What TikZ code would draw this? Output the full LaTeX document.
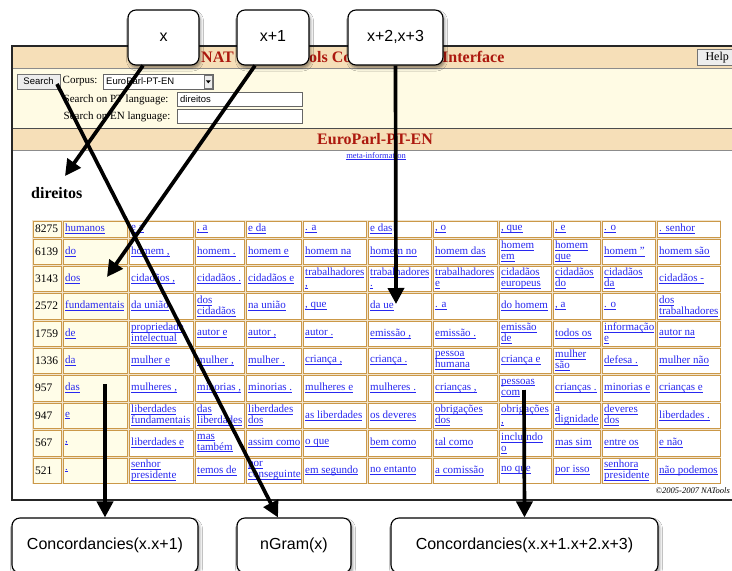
\documentclass[tikz,border=0pt]{standalone}
\usepackage{fontspec}
\setmainfont{Liberation Serif}
\newfontfamily\helv{Liberation Sans}
\usetikzlibrary{arrows.meta,shadows.blur}

\definecolor{wheatband}{RGB}{246,223,184}
\definecolor{formbg}{RGB}{255,251,228}
\definecolor{titlered}{RGB}{172,24,14}
\definecolor{linkblue}{RGB}{40,40,240}
\definecolor{celltan}{RGB}{203,152,72}
\definecolor{cellgap}{RGB}{240,228,206}
\definecolor{paleyel}{RGB}{255,253,232}

\newcommand\lk[1]{\setbox0\hbox{#1}\rlap{\rule[-1.8pt]{\wd0}{0.5pt}}\box0}
\newcommand\two[2]{\lk{#1}\\\lk{#2}}

\tikzstyle{callout}=[
    draw = black,
    line width = 1.1pt,
    fill = white,
    rounded corners = 8pt,
    blur shadow = {shadow xshift=1.5pt, shadow yshift=-3pt, shadow blur radius=3pt, shadow opacity=45},
    font = \helv\fontsize{16}{18}\selectfont,
    text height = 11.5pt,
    text depth = 3.5pt,
    inner sep = 0pt
]
\tikzstyle{ptr}=[
    line width = 3.7pt,
    -{Triangle[length=16pt,width=16pt]}
]

\def\colx{{32,62,128,194,245,302,367,432,498,552,601,656,721}}
\newcommand\tabrow[5]{%
  \draw[celltan,fill=paleyel] (33,#2+1) rectangle (61,#3-1);
  \node[numtxt] (#1-0) at (35,{(#2+#3)/2}) {#4};
  \foreach \t [count=\i] in {#5} {%
    \pgfmathsetmacro\xl{\colx[\i]}%
    \pgfmathsetmacro\xr{\colx[\i+1]}%
    \ifnum\i=1 \def\cfill{paleyel}\else\def\cfill{white}\fi
    \draw[celltan,fill=\cfill] (\xl+1,#2+1) rectangle (\xr-1,#3-1);
    \node[lnktxt] (#1-\i) at (\xl+3,{(#2+#3)/2}) {\t};
  }%
}

\begin{document}
\begin{tikzpicture}[x=1pt, y=-1pt,
    numtxt/.style = {anchor=west, inner sep=0pt, font=\fontsize{11.5}{11}\selectfont},
    lnktxt/.style = {anchor=west, align=left, inner sep=0pt, text=linkblue, font=\fontsize{11}{11}\selectfont},
    ttl/.style = {inner sep=0pt, text=titlered, font=\bfseries\fontsize{16}{18}\selectfont},
    wbtn/.style = {draw=black!55, fill=black!7, inner sep=0pt},
    wfield/.style = {draw=black!60, fill=white, inner sep=0pt, anchor=west},
    ftxt/.style = {anchor=west, inner sep=0pt, font=\fontsize{11}{12}\selectfont}]
    \useasboundingbox (0,0) rectangle (732,571);
    \fill[white] (0,0) rectangle (732,571);

    \begin{scope}
    \clip (0,0) rectangle (732,571);
    \fill[wheatband] (12,46) rectangle (745,68);
    \fill[formbg] (12,68) rectangle (745,128);
    \fill[wheatband] (12,128) rectangle (745,150);
    \draw[black!45] (12,68) -- (745,68);
    \draw[black!70] (12,128) -- (745,128);
    \draw[black!45] (12,150) -- (745,150);
    \draw[black!85, line width=1.2pt] (12,46) rectangle (745,500);

    \node[ttl, anchor=west] (t1) at (201,57) {NAT};
    \node[ttl, anchor=west] (t2) at (309,57) {ols Co};
    \node[ttl, anchor=west] (t3) at (442,57) {Interface};
    \node[wbtn, minimum width=40pt, minimum height=16pt, anchor=west, font=\fontsize{12}{12}\selectfont] (help) at (697,57.5) {Help};

    \node[wbtn, minimum width=43pt, minimum height=15pt, font=\helv\fontsize{9.5}{10}\selectfont] (srch) at (38.5,81.5) {Search};
    \node[ftxt] (corp) at (62.5,81.5) {Corpus:};
    \node[wfield, minimum width=110pt, minimum height=15pt] (sel) at (103,81.5) {};
    \node[anchor=west, inner sep=0pt, font=\helv\fontsize{9.5}{10}\selectfont] (selv) at (106,81.5) {EuroParl-PT-EN};
    \node[wbtn, minimum width=8pt, minimum height=13pt, anchor=east] (drop) at (212.5,81.5) {};
    \fill (drop.center) ++(-2.5,-1.2) -- ++(5,0) -- ++(-2.5,3) -- cycle;
    \node[ftxt] (ptl) at (63.5,99.5) {Search on PT language:};
    \node[wfield, minimum width=125pt, minimum height=14pt] (ptin) at (177,99.5) {};
    \node[anchor=west, inner sep=0pt, font=\helv\fontsize{9.5}{10}\selectfont] (ptv) at (180,99.5) {direitos};
    \node[ftxt] (enl) at (63.5,116.5) {Search on EN language:};
    \node[wfield, minimum width=125pt, minimum height=14pt] (enin) at (177,116.5) {};

    \node[ttl] (corpus) at (375,139) {EuroParl-PT-EN};
    \node[inner sep=0pt, text=linkblue, font=\fontsize{8.5}{9}\selectfont] (meta) at (376,156) {\lk{meta-information}};
    \node[anchor=west, inner sep=0pt, font=\bfseries\fontsize{16}{18}\selectfont] (dir) at (31,193) {direitos};

    \fill[cellgap] (32,220) rectangle (721,484);
    \tabrow{r1}{220}{238}{8275}{\lk{humanos},\lk{e a},\lk{, a},\lk{e da},\lk{. a},\lk{e das},\lk{, o},\lk{, que},\lk{, e},\lk{. o},\lk{. senhor}}
    \tabrow{r2}{238}{265}{6139}{\lk{do},\lk{homem ,},\lk{homem .},\lk{homem e},\lk{homem na},\lk{homem no},\lk{homem das},\two{homem}{em},\two{homem}{que},\lk{homem "},\lk{homem são}}
    \tabrow{r3}{265}{292}{3143}{\lk{dos},\lk{cidadãos ,},\lk{cidadãos .},\lk{cidadãos e},\two{trabalhadores}{,},\two{trabalhadores}{.},\two{trabalhadores}{e},\two{cidadãos}{europeus},\two{cidadãos}{do},\two{cidadãos}{da},\lk{cidadãos -}}
    \tabrow{r4}{292}{320}{2572}{\lk{fundamentais},\lk{da união},\two{dos}{cidadãos},\lk{na união},\lk{, que},\lk{da ue},\lk{. a},\lk{do homem},\lk{, a},\lk{. o},\two{dos}{trabalhadores}}
    \tabrow{r5}{320}{347}{1759}{\lk{de},\two{propriedade}{intelectual},\lk{autor e},\lk{autor ,},\lk{autor .},\lk{emissão ,},\lk{emissão .},\two{emissão}{de},\lk{todos os},\two{informação}{e},\lk{autor na}}
    \tabrow{r6}{347}{374}{1336}{\lk{da},\lk{mulher e},\lk{mulher ,},\lk{mulher .},\lk{criança ,},\lk{criança .},\two{pessoa}{humana},\lk{criança e},\two{mulher}{são},\lk{defesa .},\lk{mulher não}}
    \tabrow{r7}{374}{402}{957}{\lk{das},\lk{mulheres ,},\lk{minorias ,},\lk{minorias .},\lk{mulheres e},\lk{mulheres .},\lk{crianças ,},\two{pessoas}{com},\lk{crianças .},\lk{minorias e},\lk{crianças e}}
    \tabrow{r8}{402}{429}{947}{\lk{e},\two{liberdades}{fundamentais},\two{das}{liberdades},\two{liberdades}{dos},\lk{as liberdades},\lk{os deveres},\two{obrigações}{dos},\two{obrigações}{,},\two{a}{dignidade},\two{deveres}{dos},\lk{liberdades .}}
    \tabrow{r9}{429}{457}{567}{\lk{,},\lk{liberdades e},\two{mas}{também},\lk{assim como},\lk{o que},\lk{bem como},\lk{tal como},\two{incluindo}{o},\lk{mas sim},\lk{entre os},\lk{e não}}
    \tabrow{r10}{457}{484}{521}{\lk{.},\two{senhor}{presidente},\lk{temos de},\two{por}{conseguinte},\lk{em segundo},\lk{no entanto},\lk{a comissão},\lk{no que},\lk{por isso},\two{senhora}{presidente},\lk{não podemos}}

    \node[anchor=east, inner sep=0pt, font=\itshape\fontsize{8.5}{9}\selectfont] (copy) at (730,491) {\textcopyright2005-2007 NATools};
    \end{scope}

    \node[callout, minimum width=71pt, minimum height=55pt] (bx) at (163.5,37.5) {x};
    \node[callout, minimum width=72pt, minimum height=55pt] (bx1) at (273,37.5) {x+1};
    \node[callout, minimum width=95pt, minimum height=55pt] (bx2) at (395.5,37.5) {x+2,x+3};
    \node[callout, minimum width=186pt, minimum height=55pt] (cc1) at (105,545.5) {Concordancies(x.x+1)};
    \node[callout, minimum width=114pt, minimum height=55pt] (ng) at (294,545.5) {nGram(x)};
    \node[callout, minimum width=267pt, minimum height=55pt] (cc2) at (524.5,545.5) {Concordancies(x.x+1.x+2.x+3)};

    \coordinate (dirtip) at (65,176);
    \coordinate (dostip) at (107,277);
    \coordinate (uetip) at (396,304);
    \coordinate (srchpt) at (57,84);
    \coordinate (daspt) at (105,384);
    \coordinate (pcpt) at (524,390);

    \draw[ptr] ([xshift=-20.5pt]bx.south) -- (dirtip);
    \draw[ptr] ([xshift=-18pt]bx1.south) -- (dostip);
    \draw[ptr] (bx2.south) -- (uetip);
    \draw[ptr] (srchpt) -- ([xshift=-16pt]ng.north);
    \draw[ptr] (daspt) -- (cc1.north);
    \draw[ptr] (pcpt) -- (cc2.north);
\end{tikzpicture}
\end{document}
